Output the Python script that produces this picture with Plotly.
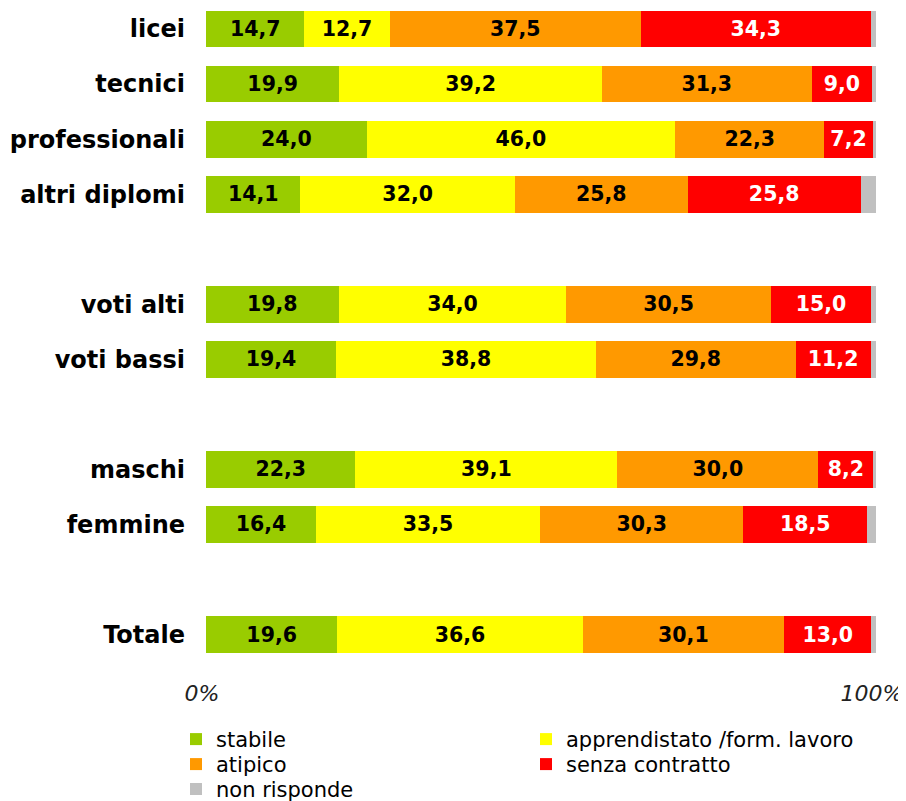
import plotly.graph_objects as go

categories = ["licei", "tecnici", "professionali", "altri diplomi",
              "voti alti", "voti bassi", "maschi", "femmine", "Totale"]
slots = [0, 1, 2, 3, 5, 6, 8, 9, 11]

stabile = [14.7, 19.9, 24.0, 14.1, 19.8, 19.4, 22.3, 16.4, 19.6]
apprendistato = [12.7, 39.2, 46.0, 32.0, 34.0, 38.8, 39.1, 33.5, 36.6]
atipico = [37.5, 31.3, 22.3, 25.8, 30.5, 29.8, 30.0, 30.3, 30.1]
senza_contratto = [34.3, 9.0, 7.2, 25.8, 15.0, 11.2, 8.2, 18.5, 13.0]
non_risponde = [0.8, 0.6, 0.5, 2.3, 0.7, 0.8, 0.4, 1.3, 0.7]

series = [
    ("stabile", stabile, "#99CC00", "black", True, "legend"),
    ("apprendistato /form. lavoro", apprendistato, "#FFFF00", "black", True, "legend"),
    ("atipico", atipico, "#FF9900", "black", True, "legend2"),
    ("senza contratto", senza_contratto, "#FF0000", "white", True, "legend2"),
    ("non risponde", non_risponde, "#C0C0C0", "black", False, "legend3"),
]

def fmt(v):
    return f"{v:.1f}".replace(".", ",")

fig = go.Figure()
for name, vals, color, tcolor, show, leg in series:
    fig.add_trace(go.Bar(
        name=name, x=vals, y=slots, orientation="h",
        marker=dict(color=color, line=dict(width=0)),
        width=0.67,
        text=[fmt(v) for v in vals] if show else None,
        textposition="inside" if show else "none",
        insidetextanchor="middle",
        textangle=0,
        textfont=dict(family="DejaVu Sans", size=20.5, color=tcolor, weight="bold"),
        legend=leg,
    ))

legend_common = dict(
    orientation="h", x=-0.0448, xanchor="left", yanchor="middle",
    entrywidth=305, entrywidthmode="pixels",
    font=dict(family="DejaVu Sans", size=21, color="black"),
    traceorder="normal", bgcolor="rgba(0,0,0,0)",
)

fig.update_layout(
    barmode="stack",
    width=898, height=793,
    margin=dict(l=198, r=30, t=2, b=139.5, autoexpand=False),
    paper_bgcolor="white", plot_bgcolor="white",
    font=dict(family="DejaVu Sans", color="black"),
    uniformtext=dict(mode="show", minsize=20),
    showlegend=True,
    legend=dict(legend_common, y=-0.1205),
    legend2=dict(legend_common, y=-0.1589),
    legend3=dict(legend_common, y=-0.1972),
)
fig.update_xaxes(
    range=[0, 100], tickvals=[0, 100], ticktext=["0%", "100%"],
    showgrid=False, zeroline=False, showline=False,
    tickfont=dict(family="DejaVu Sans", size=22, color="#222222", style="italic"),
    ticklabelstandoff=17, ticklabelshift=-4, ticklabeloverflow="allow",
)
fig.update_yaxes(
    range=[11.48, -0.345], tickvals=slots, ticktext=categories,
    showgrid=False, zeroline=False, showline=False,
    tickfont=dict(family="DejaVu Sans", size=24, color="black", weight="bold"),
    ticklabelstandoff=20,
)

fig.write_html("out.html")
